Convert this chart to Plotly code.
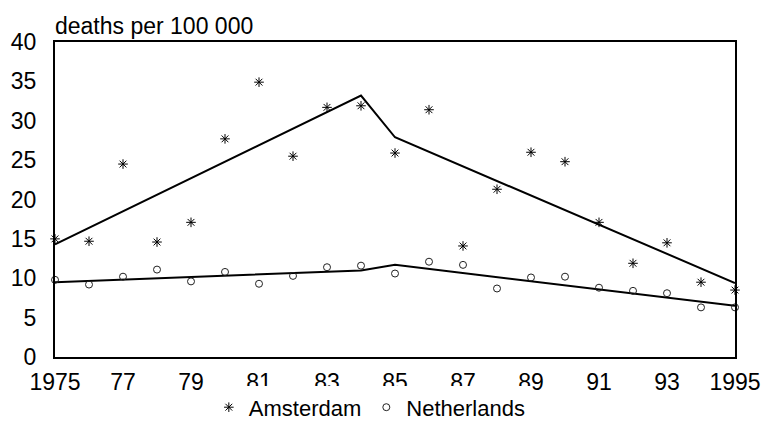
import plotly.graph_objects as go

years = list(range(1975, 1996))
amsterdam = [15.0, 14.7, 24.5, 14.6, 17.1, 27.7, 34.9, 25.5, 31.7, 31.9, 25.9,
             31.4, 14.1, 21.3, 26.0, 24.8, 17.1, 11.9, 14.5, 9.5, 8.5]
netherlands = [9.8, 9.2, 10.2, 11.1, 9.6, 10.8, 9.3, 10.3, 11.4, 11.6, 10.6,
               12.1, 11.7, 8.7, 10.1, 10.2, 8.8, 8.4, 8.1, 6.3, 6.3]

trend_years = [1975, 1984, 1985, 1995]
amsterdam_trend = [14.3, 33.2, 27.9, 9.4]
netherlands_trend_years = [1975, 1984, 1985, 1995]
netherlands_trend = [9.5, 11.0, 11.7, 6.5]

tick_vals = [1975, 1977, 1979, 1981, 1983, 1985, 1987, 1989, 1991, 1993, 1995]
tick_text = ["1975", "77", "79", "81", "83", "85", "87", "89", "91", "93", "1995"]

fig = go.Figure()
fig.add_trace(go.Scatter(x=trend_years, y=amsterdam_trend, mode="lines",
                         line=dict(color="black", width=2), showlegend=False,
                         cliponaxis=False))
fig.add_trace(go.Scatter(x=netherlands_trend_years, y=netherlands_trend, mode="lines",
                         line=dict(color="black", width=2), showlegend=False,
                         cliponaxis=False))
fig.add_trace(go.Scatter(x=years, y=amsterdam, mode="markers", name="Amsterdam",
                         marker=dict(symbol="asterisk-open", size=8, color="black",
                                     line=dict(color="black", width=1)),
                         cliponaxis=False))
fig.add_trace(go.Scatter(x=years, y=netherlands, mode="markers", name="Netherlands",
                         marker=dict(symbol="circle-open", size=7, color="#222",
                                     line=dict(color="#222", width=1)),
                         cliponaxis=False))

font = "Liberation Sans, Arial, sans-serif"
fig.update_layout(
    width=765, height=423,
    margin=dict(l=55, r=30, t=42, b=66, autoexpand=False),
    paper_bgcolor="white", plot_bgcolor="white",
    font=dict(family=font, color="black", size=22),
    xaxis=dict(range=[1975, 1995], tickvals=tick_vals, ticktext=tick_text,
               showgrid=False, zeroline=False, showline=True, mirror=True,
               linecolor="black", linewidth=2, ticks="", ticklabelstandoff=3,
               tickfont=dict(size=23)),
    yaxis=dict(range=[0, 40], dtick=5, showgrid=False, zeroline=False,
               showline=True, mirror=True, linecolor="black", linewidth=2,
               ticks="", ticklabelstandoff=12, tickfont=dict(size=23)),
    legend=dict(orientation="h", x=0.463, xanchor="center", y=-0.16, yanchor="middle",
                font=dict(size=22), itemwidth=30, tracegroupgap=0),
    annotations=[dict(text="deaths per 100 000", x=-0.003, xref="paper", xanchor="left",
                      y=1.0, yref="paper", yanchor="bottom", yshift=1,
                      showarrow=False, font=dict(size=23))],
)

fig.write_html("out.html", config={"displayModeBar": False},
               post_script="document.body.style.margin='0px';document.body.style.overflow='hidden';")
